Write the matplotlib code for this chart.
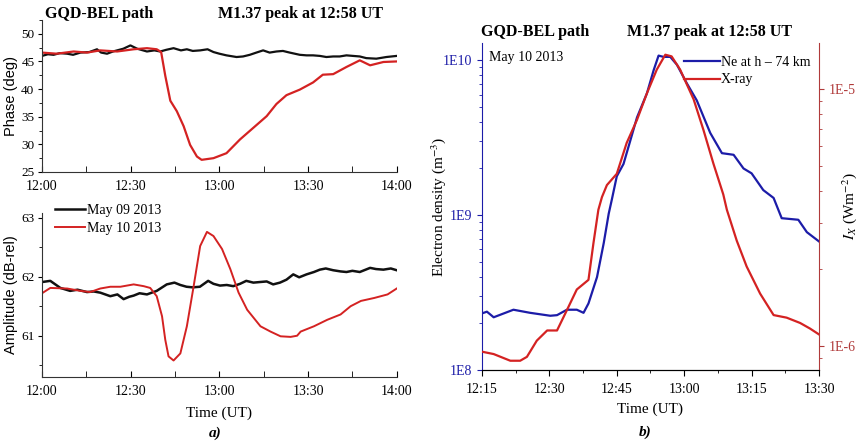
import matplotlib
matplotlib.use("Agg")
from matplotlib import pyplot as plt
from matplotlib.ticker import FixedLocator, MultipleLocator, LogLocator, NullFormatter

plt.rcParams['font.family'] = ['Liberation Serif', 'DejaVu Serif']
plt.rcParams['mathtext.fontset'] = 'stix'

# time in minutes after 12:00 UT
t_phase_0509 = [0, 2, 3.9, 6, 8.5, 10.5, 13, 16, 18.6, 20, 22, 24, 25.4, 27.5, 29.9, 32.2,
                35.5, 38, 40, 42, 44.5, 47, 49, 51, 53.5, 56, 58, 60, 62.4, 65.8, 68, 70.3,
                72.5, 74.8, 77, 79.3, 81.5, 83.8, 87.2, 89.5, 91.7, 94, 96.2, 98.5, 100.7,
                103, 105.2, 107.5, 109.7, 113.1, 116.5, 120]
phase_0509 = [46.0, 46.3, 46.2, 46.5, 46.4, 46.2, 46.6, 46.7, 47.2, 46.6, 46.4, 46.8, 47.0, 47.3,
              47.9, 47.3, 46.8, 47.0, 46.8, 47.1, 47.4, 47.0, 47.2, 46.9, 47.0, 47.2, 46.7,
              46.4, 46.1, 45.8, 45.9, 46.2, 46.6, 47.0, 46.6, 46.8, 46.9, 46.6, 46.2, 46.1,
              46.1, 46.0, 45.8, 45.9, 45.9, 46.1, 46.0, 45.9, 45.6, 45.5, 45.8, 46.0]

t_phase_0510 = [0, 5, 10.7, 15.2, 19.7, 25.4, 31, 35.5, 38.8, 40.3, 41.7, 43.4, 45.6, 47.9,
                50.1, 52.4, 54, 58, 62.4, 67, 71.5, 76, 79.3, 82.7, 87.2, 91.7, 95, 98.5,
                103, 107.5, 111, 115.5, 120]
phase_0510 = [46.6, 46.4, 46.8, 46.6, 47.0, 46.8, 47.2, 47.4, 47.2, 46.7, 42.4, 37.9, 36.0, 33.3,
              29.9, 27.8, 27.2, 27.5, 28.4, 30.9, 33.0, 35.1, 37.3, 38.9, 39.9, 41.2, 42.6, 42.7,
              44.0, 45.2, 44.3, 44.9, 45.0]

t_amp_0509 = [0, 2.8, 6.2, 9.5, 12, 15.2, 17.5, 19.7, 23.1, 25.5, 27.6, 29.5, 31, 33, 35.5,
              38.8, 42.2, 44.8, 46.8, 48.9, 51, 53.4, 56.2, 58, 60.2, 62.5, 64.7, 67, 69.1,
              71.5, 73.7, 76, 78.2, 80.5, 82.7, 85, 87, 89.5, 92, 94, 96, 98.5, 101, 103,
              105, 107.5, 111, 113, 115.5, 118, 120]
amp_0509 = [61.91, 61.93, 61.81, 61.76, 61.78, 61.74, 61.75, 61.73, 61.67, 61.70, 61.62, 61.66,
            61.68, 61.72, 61.70, 61.76, 61.87, 61.90, 61.86, 61.83, 61.82, 61.83, 61.93, 61.88,
            61.85, 61.86, 61.84, 61.88, 61.93, 61.90, 61.91, 61.92, 61.87, 61.90, 61.95, 62.04,
            61.99, 62.04, 62.08, 62.12, 62.14, 62.11, 62.09, 62.08, 62.10, 62.08, 62.15, 62.13,
            62.12, 62.14, 62.11]

t_amp_0510 = [0, 2.8, 8.5, 13, 16.3, 19.7, 23.1, 26.5, 31, 34.4, 36.6, 38.8, 40.6, 41.7, 42.8,
              44.5, 46.8, 49, 51.3, 53.5, 55.8, 58, 60.9, 63.7, 66.5, 69.4, 73.9, 77.3, 80.7,
              84.1, 86.3, 87.5, 92, 96.5, 101, 104.4, 107.9, 112.4, 116.9, 120]
amp_0510 = [61.72, 61.81, 61.80, 61.76, 61.74, 61.80, 61.83, 61.83, 61.87, 61.84, 61.81, 61.67,
            61.33, 60.93, 60.65, 60.58, 60.70, 61.16, 61.84, 62.52, 62.76, 62.69, 62.47, 62.13,
            61.73, 61.44, 61.16, 61.07, 60.99, 60.98, 61.00, 61.07, 61.16, 61.27, 61.36, 61.50,
            61.59, 61.64, 61.70, 61.80]

# electron density at 74 km and GOES X-ray flux, May 10 2013
t_ne = [15, 16.1, 17.6, 22, 25.7, 30.2, 31.7, 33.9, 36.1, 37.6, 38.7, 40.6, 42.1, 43.2, 43.9,
        45, 46.5, 48, 49.5, 51.7, 53.2, 54.3, 55.4, 56.9, 58.4, 60.6, 62.8, 65.8, 68.4, 71,
        73.2, 75, 77.6, 79.9, 81.7, 85.4, 87.3, 90]
ne = [2.32e8, 2.38e8, 2.19e8, 2.45e8, 2.34e8, 2.24e8, 2.26e8, 2.45e8, 2.45e8, 2.34e8, 2.69e8,
      3.98e8, 6.61e8, 1.02e9, 1.26e9, 1.78e9, 2.14e9, 3.02e9, 4.27e9, 6.10e9, 8.61e9, 1.07e10,
      1.05e10, 1.05e10, 9.33e9, 7.08e9, 5.50e9, 3.39e9, 2.51e9, 2.45e9, 2.00e9, 1.86e9,
      1.45e9, 1.29e9, 9.55e8, 9.33e8, 7.76e8, 6.76e8]

t_xray = [15, 17.6, 21.3, 23.5, 25, 27.2, 29.5, 31.7, 33.9, 36.1, 38.7, 39.8, 40.9, 41.7,
          42.8, 45, 47.2, 49.5, 51.7, 53.9, 55.8, 57.2, 59.1, 62.1, 64.3, 66.5, 68.7, 69.5,
          71.7, 73.9, 76.9, 79.9, 82.8, 85.8, 88, 90]
xray = [9.51e-7, 9.31e-7, 8.77e-7, 8.77e-7, 9.08e-7, 1.05e-6, 1.15e-6, 1.15e-6, 1.38e-6,
        1.66e-6, 1.81e-6, 2.51e-6, 3.39e-6, 3.80e-6, 4.23e-6, 4.68e-6, 6.17e-6, 7.59e-6,
        9.62e-6, 1.19e-5, 1.36e-5, 1.34e-5, 1.19e-5, 9.12e-6, 6.92e-6, 5.13e-6, 3.89e-6,
        3.39e-6, 2.57e-6, 2.04e-6, 1.60e-6, 1.32e-6, 1.29e-6, 1.23e-6, 1.17e-6, 1.11e-6]

left_ticks = [0, 30, 60, 90, 120]
left_labels = ['12:00', '12:30', '13:00', '13:30', '14:00']
right_ticks = [15, 30, 45, 60, 75, 90]
right_labels = ['12:15', '12:30', '12:45', '13:00', '13:15', '13:30']

BLACK = '#111111'
RED = '#d42222'
BLUE = '#1c1ca8'
DARKRED = '#b03a3a'

fig = plt.figure(figsize=(8.63, 4.45), dpi=100)

ax1 = fig.add_axes([0.0487, 0.6135, 0.411, 0.3416])
ax2 = fig.add_axes([0.0487, 0.1528, 0.411, 0.3685])
ax3 = fig.add_axes([0.5585, 0.1685, 0.3905, 0.7348])

for ax in (ax1, ax2):
    for s in ('top', 'right'):
        ax.spines[s].set_visible(False)
    for s in ('left', 'bottom'):
        ax.spines[s].set_color('#333333')
        ax.spines[s].set_linewidth(0.8)
    ax.set_xlim(0, 120)
    ax.xaxis.set_major_locator(FixedLocator(left_ticks))
    ax.set_xticklabels(left_labels)
    ax.xaxis.set_minor_locator(MultipleLocator(15))
    ax.tick_params(axis='x', which='both', direction='in', length=4, labelsize=10, pad=6)
    ax.tick_params(axis='y', which='major', direction='out', length=3, labelsize=9.5, pad=2.5)
    ax.tick_params(axis='y', which='minor', direction='out', length=2)

# phase
ax1.plot(t_phase_0509, phase_0509, color=BLACK, lw=1.6)
ax1.plot(t_phase_0510, phase_0510, color=RED, lw=1.6)
ax1.set_ylim(25, 52.5)
ax1.yaxis.set_major_locator(MultipleLocator(5))
ax1.yaxis.set_minor_locator(MultipleLocator(2.5))
ax1.set_ylabel('Phase (deg)', family='Liberation Sans', fontsize=10.5)
ax1.yaxis.set_label_coords(-0.068, 0.5)

# amplitude
l1, = ax2.plot(t_amp_0509, amp_0509, color=BLACK, lw=1.8)
l2, = ax2.plot(t_amp_0510, amp_0510, color=RED, lw=1.4)
ax2.set_ylim(60.3, 63.08)
ax2.yaxis.set_major_locator(MultipleLocator(1))
ax2.yaxis.set_minor_locator(MultipleLocator(0.5))
ax2.set_ylabel('Amplitude (dB-rel)', family='Liberation Sans', fontsize=10.5)
ax2.yaxis.set_label_coords(-0.068, 0.5)
ax2.set_xlabel('Time (UT)', fontsize=11)
ax2.xaxis.set_label_coords(0.5, -0.177)
ax2.legend([l1, l2], ['May 09 2013', 'May 10 2013'], loc='upper left',
           bbox_to_anchor=(0.02, 1.09), frameon=False, fontsize=10,
           handlelength=2.2, handletextpad=0.1, labelspacing=0.35, borderaxespad=0)

# electron density and X-ray flux
ax3.spines['top'].set_visible(False)
ax3.spines['left'].set_color(BLUE)
ax3.spines['right'].set_visible(False)
ax3.plot(t_ne, ne, color=BLUE, lw=1.6)
ax3.set_yscale('log')
ax3.set_ylim(1e8, 1.29e10)
ax3.set_xlim(15, 90)
ax3.xaxis.set_major_locator(FixedLocator(right_ticks))
ax3.set_xticklabels(right_labels)
ax3.xaxis.set_minor_locator(MultipleLocator(7.5))
ax3.tick_params(axis='x', which='major', direction='out', length=4, labelsize=10, pad=5)
ax3.tick_params(axis='x', which='minor', direction='out', length=2.5)
ax3.yaxis.set_major_locator(LogLocator(base=10))
ax3.yaxis.set_minor_locator(LogLocator(base=10, subs=range(2, 10)))
ax3.yaxis.set_minor_formatter(NullFormatter())
ax3.set_yticks([1e8, 1e9, 1e10])
ax3.set_yticklabels(['1E8', '1E9', '1E10'])
ax3.tick_params(axis='y', which='both', colors=BLUE, labelsize=10)
ax3.tick_params(axis='y', which='minor', length=2.5)
ax3.set_ylabel('Electron density (m$^{-3}$)', fontsize=11)
ax3.yaxis.set_label_coords(-0.102, 0.5)
ax3.set_xlabel('Time (UT)', fontsize=11)
ax3.xaxis.set_label_coords(0.5, -0.098)

ax4 = ax3.twinx()
ax4.spines['top'].set_visible(False)
ax4.spines['left'].set_visible(False)
ax4.spines['right'].set_color(DARKRED)
ax4.plot(t_xray, xray, color=RED, lw=1.6)
ax4.set_yscale('log')
ax4.set_ylim(8.07e-7, 1.51e-5)
ax4.yaxis.set_minor_locator(LogLocator(base=10, subs=range(2, 10)))
ax4.yaxis.set_minor_formatter(NullFormatter())
ax4.set_yticks([1e-6, 1e-5])
ax4.set_yticklabels(['1E-6', '1E-5'])
ax4.tick_params(axis='y', which='both', colors=DARKRED, labelsize=10)
ax4.tick_params(axis='y', which='minor', length=2.5)
ax4.set_ylabel('$I_X$ (Wm$^{-2}$)', fontsize=11)
ax4.yaxis.set_label_coords(1.062, 0.5)

h_ne, = ax3.plot([], [], color=BLUE, lw=1.6)
h_x, = ax3.plot([], [], color=RED, lw=1.6)
ax3.legend([h_ne, h_x], ['Ne at h \u2013 74 km', 'X-ray'], loc='upper right',
           bbox_to_anchor=(1.0, 0.985), frameon=False, fontsize=10,
           handlelength=2.6, handletextpad=0.1, labelspacing=0.3, borderaxespad=0.2)
ax3.text(0.02, 0.955, 'May 10 2013', transform=ax3.transAxes, fontsize=10, va='center')

# headers and panel letters
fig.text(45 / 863, 1 - 14 / 445, 'GQD-BEL path', fontsize=11.5, fontweight='bold', va='center')
fig.text(218 / 863, 1 - 14 / 445, 'M1.37 peak at 12:58 UT', fontsize=11.5, fontweight='bold', va='center')
fig.text(481 / 863, 1 - 32 / 445, 'GQD-BEL path', fontsize=11.5, fontweight='bold', va='center')
fig.text(627 / 863, 1 - 32 / 445, 'M1.37 peak at 12:58 UT', fontsize=11.5, fontweight='bold', va='center')
fig.text(215 / 863, 1 - 433 / 445, 'a)', fontsize=11, fontweight='bold', style='italic', ha='center', va='center')
fig.text(645 / 863, 1 - 432 / 445, 'b)', fontsize=11, fontweight='bold', style='italic', ha='center', va='center')

fig.savefig('out.png', dpi=100)
